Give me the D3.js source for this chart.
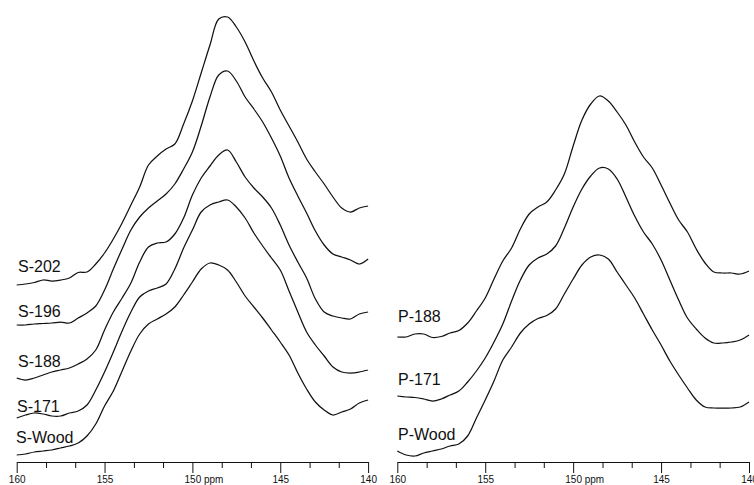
<!DOCTYPE html>
<html>
<head>
<meta charset="utf-8">
<script src="https://cdn.jsdelivr.net/npm/d3@7"></script>
<style>
  html, body { margin: 0; padding: 0; background: #fff; }
  svg { display: block; }
  text { font-family: "Liberation Sans", Arial, sans-serif; fill: #111; }
</style>
</head>
<body>
<svg id="chart" width="754" height="485"></svg>
<script>
// chemical shift grid (ppm), shared by all spectra
const ppm = [160,159.5,159,158.5,158,157.5,157,156.5,156,155.5,155,154.5,154,153.5,153,152.5,152,151.5,151,150.5,150,
             149.5,149,148.5,148,147.5,147,146.5,146,145.5,145,144.5,144,143.5,143,142.5,142,141.5,141,140.5,140];

// stacked intensities (arbitrary units, offset included), left panel
const sNames = ["S-202","S-196","S-188","S-171","S-Wood"];
const s202 = [177,178,179.5,182,181,182,184,189.5,190,198,209,223,239,257,275,297,306,313,318,338,361,389,417,443,445,435,420,401,384,370,352,336,320,303,290,278,265,254,250,254,256];
const s196 = [137,137,138,138.5,139,140,139,144,149,156,172,193,213,232,245,254,261,268,278,293,310,336,365,387,391,381,365,353,340,324,306,284,266,249,231,217,208,205,202,198,203];
const s188 = [84,82,84,87,90,92,94,98,103,112,132,150,164,179,200,215,219,220,228,244,267,284,296,307,312,300,285,274,265,254,237,217,200,184,163,150,146,144,143,148,150];
const s171 = [44,47,49,48,46,46,49,51,57,72,90,110,131,150,165,171,174,178,193,214,232,250,257,260,262,255,244,229,216,204,192,171,150,130,117,106,95,90,89,90,92];
const sWood = [7,8,10,11,12,14,16,19,26,38,56,71,91,111,128,138,143,148,155,167,180,193,199,197,192,180,166,155,144,132,120,107,89,73,60,52,47,50,53,59,62];

// right panel
const pNames = ["P-188","P-171","P-Wood"];
const p188 = [125,125,128,128,124.5,125.5,129,131.5,139,151,164,183,201,214,233,248,255,260,272,288,316,342,358,366,361,350,337,320,305,294,277,259,242,230,213,199,190,189,189,188,191];
const p171 = [66,65,64.5,63,61,63,67,71,80,91,104,120,138,161,182,197,204,208,216,234,255,273,286,294,293,283,265,246,230,218,202,182,162,144,133,124,119,119,120,122,127];
const pWood = [11,7,6,9,11,13,16,18,26,44,62,81,102,115,129,138,143.5,146.5,153,168,183,197,205,207,203,190,177,164,148,132,117,101,87,74,62,55,54,54,54,55,60];

// axis ticks
const majorTicks = [160,155,150,145,140];
const minorTicks = [158.33,156.67,153.33,151.67,148.33,146.67,143.33,141.67];

// ---------- layout ----------
const svg = d3.select("#chart");
const axisY = 462;
const y = d3.scaleLinear().domain([0, 462]).range([axisY, 0]);

const panels = [
  { range: [16.7, 368.1], series: [s202, s196, s188, s171, sWood], names: sNames,
    labelPos: [[18,272],[18,316.7],[18,366.7],[17,411.7],[16,442.7]] },
  { range: [397.3, 749], series: [p188, p171, pWood], names: pNames,
    labelPos: [[398,321.7],[398,385],[398,440]] }
];

panels.forEach(p => {
  const x = d3.scaleLinear().domain([160, 140]).range(p.range);
  const g = svg.append("g");

  const line = d3.line()
    .x((d, i) => x(ppm[i]))
    .y(d => y(d))
    .curve(d3.curveCatmullRom.alpha(0.5));

  g.selectAll("path.spec")
    .data(p.series)
    .join("path")
    .attr("class", "spec")
    .attr("d", line)
    .attr("fill", "none")
    .attr("stroke", "#111")
    .attr("stroke-width", 1.25)
    .attr("stroke-linejoin", "round");

  g.selectAll("text.lbl")
    .data(p.names)
    .join("text")
    .attr("class", "lbl")
    .attr("x", (d, i) => p.labelPos[i][0])
    .attr("y", (d, i) => p.labelPos[i][1])
    .attr("font-size", 16)
    .text(d => d);

  // minor ticks
  const minorAxis = d3.axisBottom(x).tickValues(minorTicks).tickSize(6).tickSizeOuter(0).tickFormat("");
  const gm = g.append("g").attr("transform", `translate(0,${axisY})`).call(minorAxis);
  gm.select(".domain").remove();
  gm.selectAll("line").attr("stroke", "#111");

  // major ticks
  const majorAxis = d3.axisBottom(x).tickValues(majorTicks).tickSize(11).tickSizeOuter(0)
    .tickFormat(d => d === 150 ? "150 ppm" : String(d));
  const ga = g.append("g").attr("transform", `translate(0,${axisY})`).call(majorAxis);
  ga.select(".domain").attr("stroke", "#111");
  ga.selectAll("line").attr("stroke", "#111");
  ga.selectAll("text")
    .attr("font-family", "'Liberation Sans', Arial, sans-serif")
    .attr("font-size", 10)
    .attr("fill", "#111");
  ga.selectAll(".tick").filter(d => d === 150).select("text")
    .attr("text-anchor", "start")
    .attr("dx", "-8.4");
});
</script>
</body>
</html>
